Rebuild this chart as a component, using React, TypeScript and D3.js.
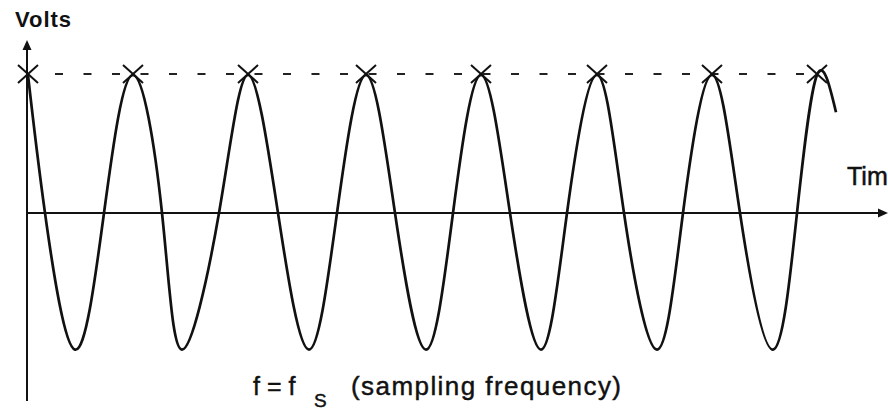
import React from "react";
import * as d3 from "d3";

// Key points of the hand-drawn waveform (time in arbitrary units, volts normalised)
const waveTimes = [1, 18, 48, 77, 106, 135, 155, 192, 221, 251, 282, 310, 339, 368, 399, 426, 454, 483, 514, 540, 570, 597, 630, 656, 685, 713, 746, 770, 790, 809];
const waveVolts = [1, 0, -0.99, 0, 1, 0, -0.99, 0, 1, 0, -0.99, 0, 1, 0, -0.99, 0, 1, 0, -0.99, 0, 1, 0, -0.99, 0, 1, 0, -0.99, 0, 1, 0.73];
// Sample instants (one per cycle, f = fs)
const sampleTimes = [1, 106, 221, 339, 454, 570, 685, 790];
const sampleVolts = [1, 1, 1, 1, 1, 1, 1, 1];

const yLabel = "Volts";
const xLabel = "Time";
const captionMain = "f = f";
const captionSub = "S";
const captionTail = "(sampling frequency)";

const W = 888;
const H = 411;

export default function App() {
  const x = d3.scaleLinear().domain([0, 860]).range([27, 887]);
  const y = d3.scaleLinear().domain([-1, 1]).range([351, 75]);
  const pts: [number, number][] = waveTimes.map((t, i) => [t, waveVolts[i]]);
  const line = d3
    .line<[number, number]>()
    .x((d) => x(d[0]))
    .y((d) => y(d[1]))
    .curve(d3.curveNatural);
  const x0 = x(0);
  const y0 = y(0);
  const peakY = y(1);
  const ink = "#111";
  const font = "'Liberation Sans', Arial, Helvetica, sans-serif";
  const dashStart = 55;
  const dashEnd = x(sampleTimes[sampleTimes.length - 1]) - 12;

  return (
    <>
      <style>{`body{margin:0;background:#fff}`}</style>
      <svg width={W} height={H} viewBox={`0 0 ${W} ${H}`} style={{ display: "block" }}>
        <rect width={W} height={H} fill="#fff" />
        {/* y axis */}
        <line x1={x0} x2={x0} y1={48} y2={401} stroke={ink} strokeWidth={2} />
        <path d={`M${x0},40 L${x0 - 4.5},50 L${x0 + 4.5},50 Z`} fill={ink} />
        {/* x axis */}
        <line x1={x0} x2={879} y1={y0} y2={y0} stroke={ink} strokeWidth={2} />
        <path d={`M888,${y0} L878,${y0 - 4.5} L878,${y0 + 4.5} Z`} fill={ink} />
        {/* dashed sample level */}
        <line
          x1={dashStart}
          x2={dashEnd}
          y1={peakY - 1}
          y2={peakY - 1}
          stroke="#222"
          strokeWidth={2}
          strokeDasharray="8 20.5"
        />
        {/* waveform */}
        <path d={line(pts) || ""} fill="none" stroke={ink} strokeWidth={2.7} strokeLinejoin="round" />
        {/* sample marks */}
        {sampleTimes.map((t, i) => {
          const cx = x(t);
          const cy = y(sampleVolts[i]) - 1;
          return (
            <g key={i} stroke={ink} strokeWidth={2}>
              <line x1={cx - 10} y1={cy - 9} x2={cx + 10} y2={cy + 9} />
              <line x1={cx - 10} y1={cy + 9} x2={cx + 10} y2={cy - 9} />
            </g>
          );
        })}
        {/* labels */}
        <text x={15} y={27} fontFamily={font} fontWeight="bold" fontSize={22} fill={ink} textLength={56} lengthAdjust="spacing">
          {yLabel}
        </text>
        <text x={847} y={185} fontFamily={font} fontSize={25} fill={ink} stroke={ink} strokeWidth={0.5}>
          {xLabel}
        </text>
        <g fontFamily={font} fill={ink} stroke={ink} strokeWidth={0.45}>
          <text x={253} y={395} fontSize={25}>
            {captionMain}
          </text>
          <text x={314} y={407} fontSize={19}>
            {captionSub}
          </text>
          <text x={351} y={395} fontSize={26} textLength={270} lengthAdjust="spacing">
            {captionTail}
          </text>
        </g>
      </svg>
    </>
  );
}
